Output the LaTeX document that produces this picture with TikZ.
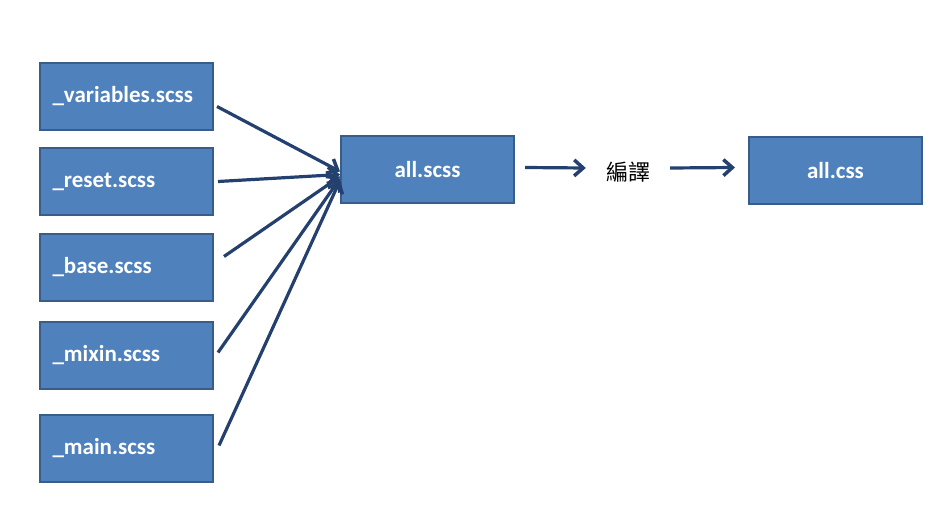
\documentclass[tikz,border=0pt]{standalone}
\usepackage{fontspec}
\setmainfont{Carlito}
\newfontfamily\cjkfont{Noto Sans CJK TC}
\usetikzlibrary{arrows.meta, positioning}
\definecolor{cfill}{RGB}{79,129,189}
\definecolor{cedge}{RGB}{56,93,138}
\definecolor{carrow}{RGB}{36,64,110}

\begin{document}
\begin{tikzpicture}[
  x=1pt, y=-1pt,
  box/.style     = {rectangle, draw=cedge, line width=2pt, fill=cfill,
                    minimum width=173pt, minimum height=67pt, inner sep=0pt,
                    text=white, font=\fontsize{23}{26}\selectfont\bfseries},
  partbox/.style = {box, text width=148pt, align=left},
  arr/.style     = {-{Straight Barb[length=9pt, width=16pt, line width=3.5pt]},
                    line width=3.2pt, carrow},
]
\useasboundingbox (0,0) rectangle (949,519);
% Left column: partial files
\node[partbox, anchor=north west] (vars)  at (39,62) {\_variables.scss};
\node[partbox, below=16pt of vars]  (reset) {\_reset.scss};
\node[partbox, below=17pt of reset] (base)  {\_base.scss};
\node[partbox, below=19pt of base]  (mixin) {\_mixin.scss};
\node[partbox, below=24pt of mixin] (main)  {\_main.scss};
% Main file, compile step, output
\node[box, anchor=north west] (scss) at (340,135) {all.scss};
\node[font=\cjkfont\fontsize{22}{24}\selectfont, inner xsep=20pt] (lbl) at (628,172) {編譯};
\node[box, anchor=north west] (css)  at (748,136) {all.css};
% Arrows
\draw[arr] ([xshift=3pt, yshift=-10pt]vars.east) -- ([yshift=-2pt]scss.west);
\draw[arr] ([xshift=4pt]reset.east)              -- ([yshift=-5pt]scss.west);
\draw[arr] ([xshift=10pt, yshift=11pt]base.east) -- ([yshift=-7pt]scss.west);
\draw[arr] ([xshift=4pt, yshift=3pt]mixin.east)  -- ([yshift=-9pt]scss.west);
\draw[arr] ([xshift=5pt, yshift=3pt]main.east)   -- ([yshift=-11pt]scss.west);
\draw[arr] ([xshift=10pt, yshift=2pt]scss.east)  -- ([yshift=4pt]lbl.west);
\draw[arr] ([yshift=4pt]lbl.east)                -- ([xshift=-13pt, yshift=3pt]css.west);
\end{tikzpicture}
\end{document}
